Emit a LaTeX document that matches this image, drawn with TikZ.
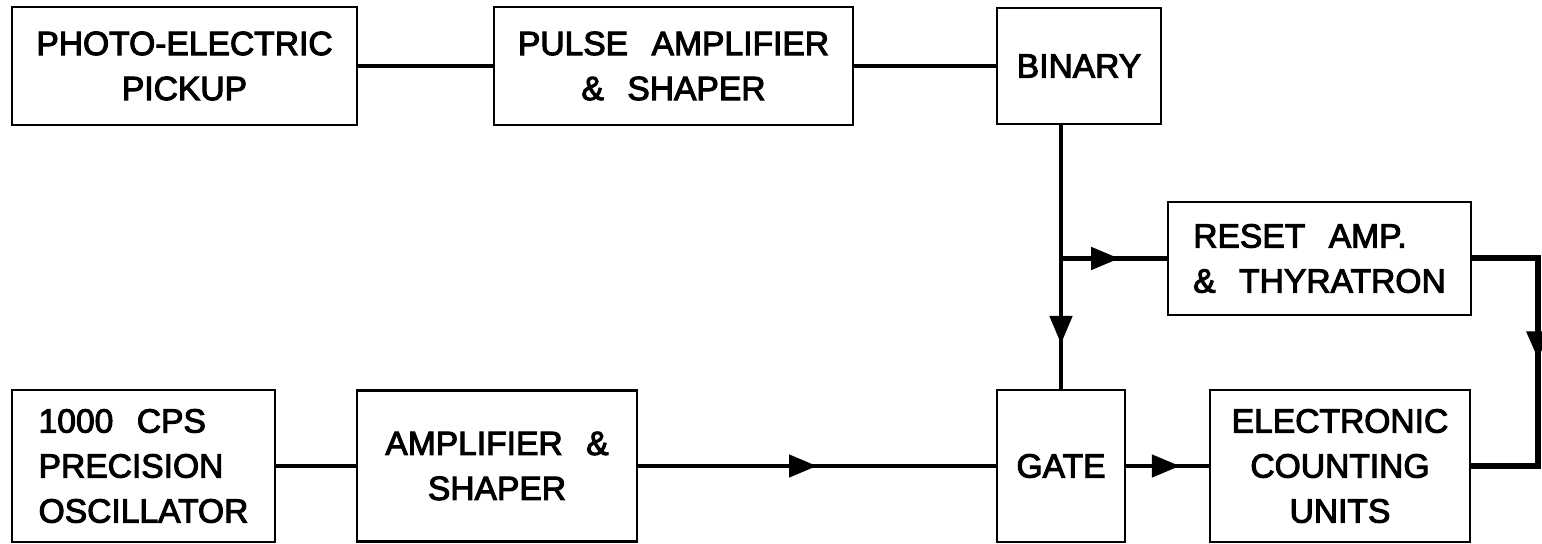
\documentclass[tikz,border=0pt]{standalone}
\usepackage{fontspec}
\setmainfont{Liberation Sans}
\newfontfamily\lblfont[FakeBold=3]{Liberation Sans}
\usetikzlibrary{arrows.meta,decorations.markings}
\newcommand{\wsp}{\hspace{0.7em}}

\begin{document}
\begin{tikzpicture}[x=0.5pt,y=-0.5pt,
    blk/.style={draw,line width=1.2pt,inner sep=0pt,align=center,
      font=\lblfont\fontsize{16.8}{22.5}\selectfont},
    wire/.style={line width=2.3pt},
    fwd/.style={postaction={decorate},decoration={markings,
      mark=at position #1 with {\arrow{Triangle[length=14pt,width=11pt]}}}}]
  \useasboundingbox (0,0) rectangle (1542,544);
  % top row
  \node[blk,minimum width=172.5pt,minimum height=59pt] (pick) at (184.5,66) {PHOTO-ELECTRIC\\PICKUP};
  \node[blk,minimum width=179.5pt,minimum height=59pt] (pulse) at (673.5,66) {PULSE\wsp AMPLIFIER\\\&\wsp SHAPER};
  \node[blk,minimum width=82pt,minimum height=58pt] (binary) at (1079,66) {BINARY};
  \node[blk,align=left,minimum width=151.5pt,minimum height=56.5pt] (reset) at (1319.5,258.5) {RESET\wsp AMP.\\\&\wsp THYRATRON};
  % bottom row
  \node[blk,align=left,minimum width=131.5pt,minimum height=76pt] (osc) at (143.5,466) {1000\wsp CPS\\PRECISION\\OSCILLATOR};
  \node[blk,minimum width=140pt,minimum height=75.5pt] (amp) at (497,466) {AMPLIFIER\wsp\&\\SHAPER};
  \node[blk,minimum width=64pt,minimum height=76pt] (gate) at (1061,466) {GATE};
  \node[blk,minimum width=130pt,minimum height=76pt] (count) at (1340,466) {ELECTRONIC\\COUNTING\\UNITS};
  % connections
  \draw[wire] (pick) -- (pulse);
  \draw[wire] (pulse) -- (binary);
  \draw[wire,fwd=0.83] (binary.south -| gate.north) -- (gate.north);
  \coordinate (tap) at (gate.north |- reset.west);
  \draw[wire,fwd=0.55] (tap) -- (reset.west);
  \draw[wire] (osc) -- (amp);
  \draw[wire,fwd=0.5] (amp) -- (gate);
  \draw[wire,fwd=0.65] (gate) -- (count);
  \coordinate (rt) at (1538,258.5);
  \coordinate (rb) at (1538,466);
  \draw[wire,line width=3pt,fwd=0.49] (reset.east) -- (rt) -- (rb) -- (count.east);
\end{tikzpicture}
\end{document}
